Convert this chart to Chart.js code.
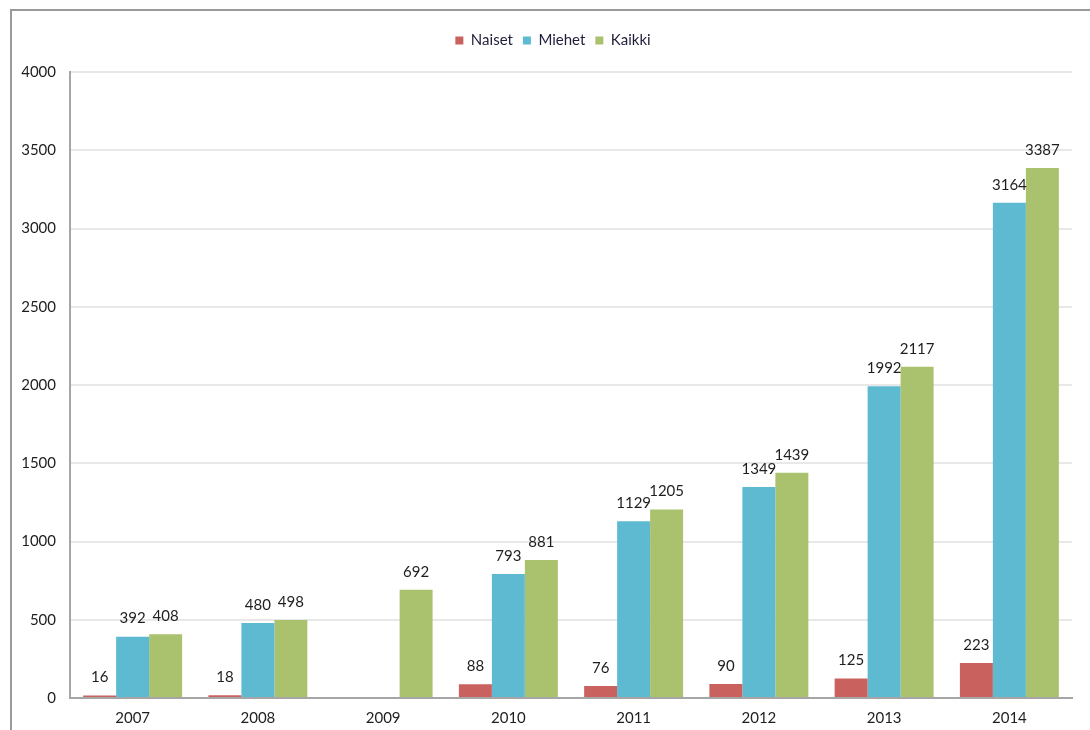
<!DOCTYPE html>
<html>
<head>
<meta charset="utf-8">
<script src="https://cdn.jsdelivr.net/npm/chart.js@4/dist/chart.umd.min.js"></script>
<style>
  html, body { margin:0; padding:0; background:#fff; }
  #wrap { position:relative; width:1090px; height:730px; overflow:hidden; }
  #frame { position:absolute; left:10px; top:9px; width:1200px; height:800px; border-left:2px solid #9a9a9a; border-top:2px solid #9a9a9a; }
  canvas { position:absolute; left:0; top:0; }
</style>
</head>
<body>
<div id="wrap">
  <div id="frame"></div>
  <canvas id="c" width="1090" height="730"></canvas>
</div>
<script>
const years = ['2007','2008','2009','2010','2011','2012','2013','2014'];
const naiset = [16, 18, null, 88, 76, 90, 125, 223];
const miehet = [392, 480, null, 793, 1129, 1349, 1992, 3164];
const kaikki = [408, 498, 692, 881, 1205, 1439, 2117, 3387];
const yTicks = [0, 500, 1000, 1500, 2000, 2500, 3000, 3500, 4000];

const FONT = 'Lato, "Open Sans", sans-serif';

const dataLabels = {
  id: 'dataLabels',
  afterDatasetsDraw(chart) {
    const ctx = chart.ctx;
    ctx.save();
    ctx.font = '15px ' + FONT;
    ctx.fillStyle = '#1e1e1e';
    ctx.textAlign = 'center';
    ctx.textBaseline = 'middle';
    chart.data.datasets.forEach((ds, i) => {
      const meta = chart.getDatasetMeta(i);
      meta.data.forEach((el, j) => {
        const v = ds.data[j];
        if (v === null || v === undefined) return;
        ctx.fillText(String(v), el.x, el.y - 18);
      });
    });
    ctx.restore();
  }
};

const legendGap = {
  id: 'legendGap',
  beforeInit(chart) {
    const origFit = chart.legend.fit;
    chart.legend.fit = function () {
      origFit.bind(chart.legend)();
      this.height += 14;
    };
  },
  afterLayout(chart) {
    chart.legend.left += 17;
    chart.legend.right += 17;
  }
};

new Chart(document.getElementById('c'), {
  type: 'bar',
  data: {
    labels: years,
    datasets: [
      { label: 'Naiset', data: naiset, backgroundColor: '#c9625e' },
      { label: 'Miehet', data: miehet, backgroundColor: '#5dbad0' },
      { label: 'Kaikki', data: kaikki, backgroundColor: '#aac26e' }
    ]
  },
  options: {
    responsive: false,
    animation: false,
    devicePixelRatio: 1,
    layout: { padding: { top: 23, right: 18, left: 0, bottom: -8 } },
    datasets: { bar: { categoryPercentage: 0.79, barPercentage: 1.0 } },
    plugins: {
      legend: {
        position: 'top',
        labels: {
          boxWidth: 8, boxHeight: 8, padding: 10,
          color: '#1e1e3a',
          font: { size: 15, family: FONT }
        }
      },
      tooltip: { enabled: false }
    },
    scales: {
      x: {
        grid: { display: false, drawTicks: false },
        border: { color: '#a6a6a6', width: 2 },
        ticks: { color: '#1e1e1e', font: { size: 15, family: FONT }, padding: 11 }
      },
      y: {
        min: 0, max: 4000,
        afterBuildTicks(scale) { scale.ticks = yTicks.map(v => ({ value: v })); },
        afterFit(scale) { scale.width = 70; },
        grid: { color: '#e8e8e8', lineWidth: 2, drawTicks: false },
        border: { color: '#a6a6a6', width: 2 },
        ticks: {
          color: '#1e1e1e', font: { size: 15, family: FONT }, padding: 14,
          callback: (v) => String(v)
        }
      }
    }
  },
  plugins: [dataLabels, legendGap]
});
</script>
</body>
</html>
